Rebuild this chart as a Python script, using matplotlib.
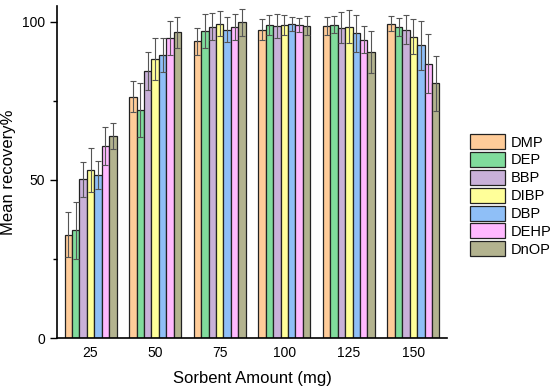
import numpy as np
import matplotlib
matplotlib.use("Agg")
import matplotlib.pyplot as plt

plt.rcParams['font.family'] = ['Liberation Sans', 'DejaVu Sans']

amounts = ['25', '50', '75', '100', '125', '150']
compounds = ['DMP', 'DEP', 'BBP', 'DIBP', 'DBP', 'DEHP', 'DnOP']
colors = ['#FFCC99', '#80DC9C', '#C9B1D9', '#FFFF99', '#8FBFF7', '#FFB9FF', '#B3B38F']

# mean recovery per compound, one value per sorbent amount
means = {
    'DMP':  [32.7, 76.3, 93.8, 97.5, 98.7, 99.4],
    'DEP':  [34.0, 72.0, 97.0, 99.0, 99.1, 98.4],
    'BBP':  [50.2, 84.4, 98.4, 98.6, 98.1, 97.5],
    'DIBP': [53.2, 88.2, 99.4, 98.9, 98.4, 95.3],
    'DBP':  [51.6, 89.4, 97.5, 99.2, 96.3, 92.5],
    'DEHP': [60.8, 94.8, 98.3, 98.9, 94.3, 86.7],
    'DnOP': [63.9, 96.6, 99.8, 98.7, 90.4, 80.5],
}
errors = {
    'DMP':  [7.0, 5.0, 4.3, 3.3, 2.9, 2.4],
    'DEP':  [9.0, 8.5, 5.4, 3.1, 2.8, 2.8],
    'BBP':  [5.5, 6.0, 4.3, 3.9, 4.9, 4.6],
    'DIBP': [7.0, 6.5, 4.0, 3.2, 5.2, 5.6],
    'DBP':  [4.5, 5.3, 4.0, 2.3, 5.8, 7.8],
    'DEHP': [6.0, 5.4, 4.2, 2.2, 4.2, 9.3],
    'DnOP': [4.0, 5.0, 4.2, 3.0, 6.7, 8.8],
}

fig = plt.figure(figsize=(5.5, 3.91), dpi=100)
ax = fig.add_axes([0.1036, 0.1355, 0.7091, 0.8495])

x = np.arange(len(amounts))
width = 0.115
for i, (name, col) in enumerate(zip(compounds, colors)):
    pos = x + (i - 3) * width
    ax.bar(pos, means[name], width, color=col, edgecolor='#222222',
           linewidth=0.9, label=name, zorder=2)
    ax.errorbar(pos, means[name], yerr=errors[name], fmt='none',
                ecolor='#555555', elinewidth=0.8, capsize=2.5,
                capthick=0.8, zorder=3)

ax.set_xlim(-0.52, 5.52)
ax.set_ylim(0, 105)
ax.set_xticks(x)
ax.set_xticklabels(amounts)
ax.set_yticks([0, 50, 100])
ax.set_yticks([25, 75], minor=True)
ax.tick_params(axis='x', length=0, labelsize=10, pad=6)
ax.tick_params(axis='y', which='major', length=5, width=1, labelsize=10, direction='out')
ax.tick_params(axis='y', which='minor', length=3, width=1, direction='out')
for s in ['top', 'right']:
    ax.spines[s].set_visible(False)
for s in ['left', 'bottom']:
    ax.spines[s].set_linewidth(1.2)

ax.set_xlabel('Sorbent Amount (mg)', fontsize=12, labelpad=8)
ax.set_ylabel('Mean recovery%', fontsize=12, labelpad=4)

fig.legend(loc='upper left', bbox_to_anchor=(0.855, 0.657), frameon=False,
           fontsize=10.5, handlelength=2.4, handleheight=1.2,
           handletextpad=0.35, labelspacing=0.17, borderpad=0, borderaxespad=0)

fig.savefig('out.png', dpi=100)
